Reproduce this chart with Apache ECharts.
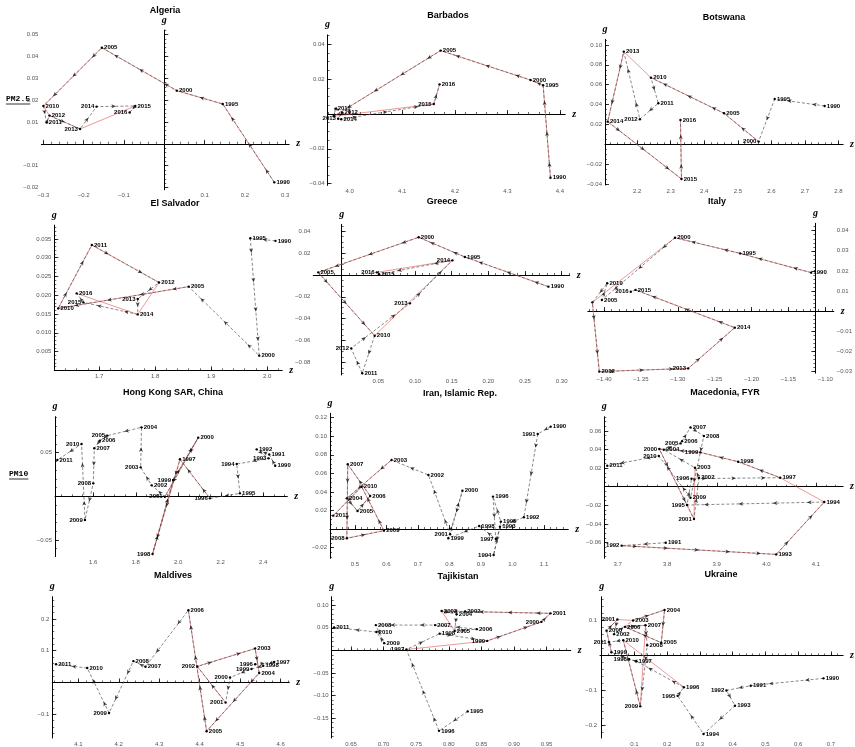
<!DOCTYPE html>
<html><head><meta charset="utf-8">
<script src="https://cdn.jsdelivr.net/npm/echarts@6/dist/echarts.min.js"></script>
<style>html,body{margin:0;padding:0;background:#fff}#c{width:855px;height:747px}</style>
</head><body><div id="c"></div>
<script>
// ---------------- DATA ----------------
const countryNames = ['Algeria','Barbados','Botswana','El Salvador','Greece','Italy','Hong Kong SAR, China','Iran, Islamic Rep.','Macedonia, FYR','Maldives','Tajikistan','Ukraine'];
const rowLabels = ['PM2.5','PM10'];

const algeriaYears = [1990,1995,2000,2005,2010,2011,2012,2013,2014,2015,2016];
const algeriaZ = [0.273,0.145,0.031,-0.155,-0.300,-0.292,-0.285,-0.209,-0.168,-0.072,-0.086];
const algeriaG = [-0.0176,0.0182,0.0243,0.0439,0.0173,0.0097,0.0129,0.0068,0.0170,0.0173,0.0143];
const algeriaRed = [1990,1995,2000,2005,2010,2012,2013,2015];
const algeriaXTicks = [-0.3,-0.2,-0.1,0.1,0.2,0.3];
const algeriaYTicks = [-0.02,-0.01,0.01,0.02,0.03,0.04,0.05];

const barbadosYears = [1990,1995,2000,2005,2010,2011,2012,2013,2014,2015,2016];
const barbadosZ = [4.382,4.368,4.344,4.173,3.970,3.973,3.986,3.978,3.984,4.160,4.171];
const barbadosG = [-0.0366,0.0165,0.0195,0.0364,-0.0013,0.0031,0.0008,-0.0027,-0.0030,0.0057,0.0170];
const barbadosRed = [1990,1995,2000,2005,2010,2015,2016];
const barbadosXTicks = [4.0,4.1,4.2,4.3,4.4];
const barbadosYTicks = [-0.04,-0.02,0.02,0.04];

const botswanaYears = [1990,1995,2000,2005,2010,2011,2012,2013,2014,2015,2016];
const botswanaZ = [2.759,2.610,2.562,2.459,2.241,2.263,2.208,2.160,2.112,2.332,2.329];
const botswanaG = [0.0386,0.0456,0.0027,0.0312,0.0671,0.0413,0.0252,0.0933,0.0228,-0.0349,0.0245];
const botswanaRed = [2000,2005,2010,2013,2014,2015,2016];
const botswanaXTicks = [2.2,2.3,2.4,2.5,2.6,2.7,2.8];
const botswanaYTicks = [-0.04,-0.02,0.02,0.04,0.06,0.08,0.10];

const elSalvadorYears = [1990,1995,2000,2005,2010,2011,2012,2013,2014,2015,2016];
const elSalvadorZ = [2.015,1.970,1.986,1.860,1.627,1.687,1.807,1.769,1.769,1.672,1.660];
const elSalvadorG = [0.0345,0.0352,0.0039,0.0223,0.0165,0.0334,0.0234,0.0190,0.0149,0.0181,0.0205];
const elSalvadorRed = [2005,2010,2011,2012,2014,2016];
const elSalvadorXTicks = [1.7,1.8,1.9,2.0];
const elSalvadorYTicks = [0.005,0.010,0.015,0.020,0.025,0.030,0.035];

const greeceYears = [1990,1995,2000,2005,2010,2011,2012,2013,2014,2015,2016];
const greeceZ = [0.282,0.168,0.105,-0.032,0.045,0.028,0.013,0.093,0.151,0.051,0.048];
const greeceG = [-0.0107,0.0165,0.0345,0.0024,-0.0556,-0.0900,-0.0672,-0.0260,0.0134,0.0006,0.0024];
const greeceRed = [1990,1995,2000,2005,2010,2014,2016];
const greeceXTicks = [0.05,0.10,0.15,0.20,0.25,0.30];
const greeceYTicks = [-0.08,-0.06,-0.04,-0.02,0.02,0.04];

const italyYears = [1990,1995,2000,2005,2010,2011,2012,2013,2014,2015,2016];
const italyZ = [-1.1192,-1.2154,-1.3038,-1.4029,-1.3957,-1.4158,-1.4064,-1.2859,-1.2227,-1.3573,-1.3637];
const italyG = [0.0191,0.0287,0.0365,0.0055,0.0138,0.0043,-0.0302,-0.0286,-0.0083,0.0105,0.0096];
const italyRed = [1990,1995,2000,2011,2012,2013,2014,2015];
const italyXTicks = [-1.40,-1.35,-1.30,-1.25,-1.20,-1.15,-1.10];
const italyYTicks = [-0.03,-0.02,-0.01,0.01,0.02,0.03,0.04];

const hongKongYears = [1990,1991,1992,1993,1994,1995,1996,1997,1998,1999,2000,2001,2002,2003,2004,2005,2006,2007,2008,2009,2010,2011];
const hongKongZ = [2.456,2.428,2.369,2.425,2.275,2.290,2.149,2.008,1.879,1.976,2.094,1.937,1.875,1.823,1.827,1.666,1.631,1.605,1.600,1.561,1.545,1.431];
const hongKongG = [0.0351,0.0480,0.0538,0.0435,0.0370,0.0034,-0.0023,0.0424,-0.0660,0.0187,0.0672,-0.0004,0.0126,0.0332,0.0790,0.0695,0.0637,0.0550,0.0149,-0.0271,0.0600,0.0416];
const hongKongRed = [1996,1997,1998,1999,2000,2001];
const hongKongXTicks = [1.6,1.8,2.0,2.2,2.4];
const hongKongYTicks = [-0.05,0.05];

const iranYears = [1990,1991,1992,1993,1994,1995,1996,1997,1998,1999,2000,2001,2002,2003,2004,2005,2006,2007,2008,2009,2010,2011];
const iranZ = [1.121,1.080,1.036,0.960,0.940,0.963,0.938,0.947,0.894,0.796,0.841,0.802,0.733,0.616,0.474,0.508,0.548,0.477,0.474,0.592,0.521,0.431];
const iranG = [0.1103,0.1024,0.0126,0.0025,-0.0280,0.0079,0.0349,-0.0108,0.0032,-0.0100,0.0413,-0.0057,0.0582,0.0744,0.0330,0.0194,0.0356,0.0697,-0.0100,-0.0018,0.0456,0.0144];
const iranRed = [2003,2004,2005,2006,2007,2008,2009,2010,2011];
const iranXTicks = [0.5,0.6,0.7,0.8,0.9,1.0,1.1];
const iranYTicks = [-0.02,0.02,0.04,0.06,0.08,0.10,0.12];

const macedoniaYears = [1991,1992,1993,1994,1995,1996,1997,1998,1999,2000,2001,2002,2003,2004,2005,2006,2007,2008,2009,2010,2011];
const macedoniaZ = [3.797,3.708,4.020,4.117,3.840,3.849,4.028,3.943,3.867,3.784,3.854,3.864,3.856,3.793,3.827,3.830,3.847,3.874,3.847,3.783,3.679];
const macedoniaG = [-0.0602,-0.0634,-0.0728,-0.0165,-0.0197,0.0086,0.0097,0.0269,0.0369,0.0405,-0.0348,0.0097,0.0204,0.0398,0.0466,0.0490,0.0638,0.0545,-0.0118,0.0330,0.0226];
const macedoniaRed = [1992,1993,1994,1997,1998,1999,2000,2001,2003];
const macedoniaXTicks = [3.7,3.8,3.9,4.0,4.1];
const macedoniaYTicks = [-0.06,-0.04,-0.02,0.02,0.04,0.06];

const maldivesYears = [1996,1997,1998,1999,2000,2001,2002,2003,2004,2005,2006,2007,2008,2009,2010,2011];
const maldivesZ = [4.537,4.584,4.557,4.528,4.475,4.464,4.394,4.537,4.547,4.417,4.372,4.266,4.236,4.176,4.122,4.045];
const maldivesG = [0.0574,0.0644,0.0525,0.0426,0.0158,-0.0634,0.0505,0.1070,0.0297,-0.1535,0.2277,0.0495,0.0673,-0.0960,0.0455,0.0574];
const maldivesRed = [2001,2002,2003,2004,2005,2006];
const maldivesXTicks = [4.1,4.2,4.3,4.4,4.5,4.6];
const maldivesYTicks = [-0.1,0.1,0.2];

const tajikistanYears = [1995,1996,1997,1998,1999,2000,2001,2002,2003,2004,2005,2006,2007,2008,2009,2010,2011];
const tajikistanZ = [0.829,0.785,0.735,0.786,0.859,0.942,0.956,0.825,0.789,0.812,0.809,0.843,0.779,0.688,0.701,0.689,0.624];
const tajikistanG = [-0.135,-0.178,0.002,0.037,0.021,0.063,0.082,0.086,0.087,0.080,0.043,0.047,0.056,0.056,0.016,0.0406,0.051];
const tajikistanRed = [1997,1999,2000,2001,2002,2003,2005];
const tajikistanXTicks = [0.65,0.70,0.75,0.80,0.85,0.90,0.95];
const tajikistanYTicks = [-0.15,-0.10,-0.05,0.05,0.10];

const ukraineYears = [1990,1991,1992,1993,1994,1995,1996,1997,1998,1999,2000,2001,2002,2003,2004,2005,2006,2007,2008,2009,2010,2011];
const ukraineZ = [0.677,0.455,0.381,0.407,0.311,0.232,0.251,0.106,0.084,0.030,0.015,0.048,0.038,0.096,0.192,0.182,0.071,0.134,0.139,0.118,0.066,0.022];
const ukraineG = [-0.0655,-0.0864,-0.1000,-0.1436,-0.2245,-0.1155,-0.0909,-0.0164,-0.0109,0.0091,0.0709,0.1027,0.0609,0.1000,0.1300,0.0364,0.0818,0.0864,0.0291,-0.1455,0.0436,0.0382];
const ukraineRed = [1999,2000,2001,2003,2004,2005,2006,2007,2009,2010,1996];
const ukraineXTicks = [0.1,0.2,0.3,0.4,0.5,0.6,0.7];
const ukraineYTicks = [-0.2,-0.1,0.1];

// ---------------- LAYOUT / STYLE (not data) ----------------
const panels = [
  {years:algeriaYears,z:algeriaZ,g:algeriaG,red:algeriaRed,xt:algeriaXTicks,yt:algeriaYTicks},
  {years:barbadosYears,z:barbadosZ,g:barbadosG,red:barbadosRed,xt:barbadosXTicks,yt:barbadosYTicks},
  {years:botswanaYears,z:botswanaZ,g:botswanaG,red:botswanaRed,xt:botswanaXTicks,yt:botswanaYTicks},
  {years:elSalvadorYears,z:elSalvadorZ,g:elSalvadorG,red:elSalvadorRed,xt:elSalvadorXTicks,yt:elSalvadorYTicks},
  {years:greeceYears,z:greeceZ,g:greeceG,red:greeceRed,xt:greeceXTicks,yt:greeceYTicks},
  {years:italyYears,z:italyZ,g:italyG,red:italyRed,xt:italyXTicks,yt:italyYTicks},
  {years:hongKongYears,z:hongKongZ,g:hongKongG,red:hongKongRed,xt:hongKongXTicks,yt:hongKongYTicks},
  {years:iranYears,z:iranZ,g:iranG,red:iranRed,xt:iranXTicks,yt:iranYTicks},
  {years:macedoniaYears,z:macedoniaZ,g:macedoniaG,red:macedoniaRed,xt:macedoniaXTicks,yt:macedoniaYTicks},
  {years:maldivesYears,z:maldivesZ,g:maldivesG,red:maldivesRed,xt:maldivesXTicks,yt:maldivesYTicks},
  {years:tajikistanYears,z:tajikistanZ,g:tajikistanG,red:tajikistanRed,xt:tajikistanXTicks,yt:tajikistanYTicks},
  {years:ukraineYears,z:ukraineZ,g:ukraineG,red:ukraineRed,xt:ukraineXTicks,yt:ukraineYTicks}
];
const layout = [
  {grid:[41.4,30,247.8,159.8], x:[-0.305,0.31], y:[-0.021,0.052], xd:1, yd:2, xm:0.02, ym:0.002, title:[165,11]},
  {grid:[327.6,34.9,237.6,150.5], x:[3.958,4.41], y:[-0.041,0.0454], xd:1, yd:2, xm:0.02, ym:0.005, title:[448,16]},
  {grid:[605,39.3,238.3,145.7], x:[2.104,2.814], y:[-0.041,0.1057], xd:1, yd:2, xm:0.02, ym:0.005, title:[724,18]},
  {grid:[54.3,225.1,227.9,145.2], x:[1.620,2.027], y:[0,0.0387], xd:1, yd:3, xm:0.02, ym:0.001, title:[175,204]},
  {grid:[313.3,224.3,256.4,150.7], x:[-0.0387,0.311], y:[-0.0916,0.0464], xd:2, yd:2, xm:0.01, ym:0.005, title:[442,202]},
  {grid:[587.8,223.3,260.1,149.9], x:[-1.422,-1.0885], y:[-0.031,0.0437], xd:2, yd:2, xm:0.01, ym:0.002, title:[717,202], shift:-1.1135, yPos:'right'},
  {grid:[55,416.7,232.3,139.9], x:[1.42,2.513], y:[-0.069,0.0912], xd:1, yd:2, xm:0.05, ym:0.01, title:[173,393]},
  {grid:[330,413.3,238.3,145], x:[0.4206,1.177], y:[-0.0316,0.1247], xd:1, yd:2, xm:0.02, ym:0.005, title:[460,394]},
  {grid:[604.3,416.7,239.4,141.6], x:[3.673,4.155], y:[-0.077,0.0753], xd:1, yd:2, xm:0.02, ym:0.005, title:[725,393]},
  {grid:[52.3,596.7,237,149.9], x:[4.0357,4.6214], y:[-0.175,0.2703], xd:1, yd:1, xm:0.02, ym:0.02, title:[173,576]},
  {grid:[331.7,596.7,239,149], x:[0.6204,0.987], y:[-0.1938,0.1188], xd:2, yd:2, xm:0.01, ym:0.01, title:[458,577]},
  {grid:[600,596.7,244.9,148.1], x:[-0.005,0.737], y:[-0.236,0.168], xd:1, yd:1, xm:0.02, ym:0.02, title:[721,575]}
];
// label placement codes: r (default), rb, l, lb, n (hidden)
const labelPlace = [
  {2011:'rb',2013:'lb',2014:'l',2016:'l'},
  {2010:'n',2013:'lb',2014:'rb',2015:'l'},
  {2000:'lb',2012:'lb'},
  {2010:'rb',2013:'l',2015:'l'},
  {2012:'l',2013:'l',2014:'l',2016:'l',2015:'rb',1990:'rb'},
  {2011:'n',2016:'l',2013:'l',2005:'rb'},
  {1990:'rb',1993:'l',1994:'l',1996:'lb',1998:'l',1999:'l',2001:'lb',2003:'l',2005:'l',2007:'rb',2008:'l',2009:'lb',2010:'l',2011:'rb'},
  {1991:'l',1992:'rb',1993:'rb',1994:'l',1997:'lb',1999:'rb',2001:'lb',2005:'rb',2006:'rb',2008:'lb',2011:'rb'},
  {1992:'l',1995:'l',1996:'l',1999:'lb',2000:'l',2001:'lb',2005:'l',2010:'l',2011:'rb',2009:'rb'},
  {1996:'l',1998:'rb',1999:'l',2000:'l',2001:'lb',2002:'l',2004:'rb',2007:'rb',2009:'lb'},
  {1997:'l',1998:'rb',1999:'lb',2000:'l',2004:'rb',2005:'rb',2009:'rb'},
  {1992:'l',1995:'lb',1998:'lb',2001:'l',2009:'lb',2011:'lb'}
];

const FONT = '"Liberation Sans", Arial, sans-serif';
function fmt(v, d){ let s = v.toFixed(d); if (s.charAt(0)==='-') s = '\u2212' + s.slice(1); return s; }
function minorTicks(min, max, step){ const out=[]; const s=Math.ceil(min/step-1e-9); for(let k=s; k*step<=max+1e-12; k++){ out.push(+(k*step).toFixed(6)); } return out; }
function labelCfg(code){
  switch(code){
    case 'rb': return {position:'right', distance:1, offset:[0,4]};
    case 'l': return {position:'left', distance:1, offset:[0,-2]};
    case 'lb': return {position:'left', distance:1, offset:[0,4]};
    case 'n': return {show:false};
    default: return {position:'right', distance:1, offset:[0,-2]};
  }
}

const option = {animation:false, backgroundColor:'#fff', grid:[], xAxis:[], yAxis:[], series:[], graphic:[]};

panels.forEach((p,i)=>{
  const L = layout[i];
  const sh = L.shift || 0;
  const yPos = L.yPos || 'left';
  option.grid.push({left:L.grid[0], top:L.grid[1], width:L.grid[2], height:L.grid[3], show:false, containLabel:false});
  const xmin = L.x[0]-sh, xmax = L.x[1]-sh;
  const xi = 2*i, yi = 2*i;
  const xTickVals = p.xt.map(v=>v-sh);
  const xMinor = minorTicks(L.x[0], L.x[1], L.xm).map(v=>v-sh);
  const yMinor = minorTicks(L.y[0], L.y[1], L.ym);
  const nameStyle = {fontFamily:'"Liberation Serif", serif', fontStyle:'italic', fontWeight:'bold', fontSize:10, color:'#000'};
  option.xAxis.push({type:'value', gridIndex:i, min:xmin, max:xmax, position:'bottom',
    name:'z', nameLocation:'end', nameGap:7, nameTextStyle:nameStyle,
    axisLine:{show:true, onZero:true, onZeroAxisIndex:yi, lineStyle:{color:'#000', width:1}},
    axisTick:{show:true, inside:true, length:4, customValues:xTickVals, lineStyle:{color:'#000', width:0.8}},
    axisLabel:{show:true, customValues:xTickVals, formatter:(v)=>fmt(v+sh, L.xd), fontSize:6, color:'#555', margin:3, fontFamily:FONT},
    splitLine:{show:false}});
  option.xAxis.push({type:'value', gridIndex:i, min:xmin, max:xmax, position:'bottom',
    axisLine:{show:false, onZero:true, onZeroAxisIndex:yi},
    axisTick:{show:true, inside:true, length:2, customValues:xMinor, lineStyle:{color:'#000', width:0.6}},
    axisLabel:{show:false}, splitLine:{show:false}});
  option.yAxis.push({type:'value', gridIndex:i, min:L.y[0], max:L.y[1], position:yPos,
    name:'g', nameLocation:'end', nameGap:5, nameTextStyle:nameStyle,
    axisLine:{show:true, onZero:true, onZeroAxisIndex:xi, lineStyle:{color:'#000', width:1}},
    axisTick:{show:true, inside:true, length:4, customValues:p.yt, lineStyle:{color:'#000', width:0.8}},
    axisLabel:{show:true, customValues:p.yt, formatter:(v)=>fmt(v, L.yd), fontSize:6, color:'#555', margin:3, fontFamily:FONT},
    splitLine:{show:false}});
  option.yAxis.push({type:'value', gridIndex:i, min:L.y[0], max:L.y[1], position:yPos,
    axisLine:{show:false, onZero:true, onZeroAxisIndex:xi},
    axisTick:{show:true, inside:true, length:2, customValues:yMinor, lineStyle:{color:'#000', width:0.6}},
    axisLabel:{show:false}, splitLine:{show:false}});

  const idx = {}; p.years.forEach((y,k)=>{ idx[y]=k; });
  const place = labelPlace[i] || {};

  option.series.push({type:'line', xAxisIndex:xi, yAxisIndex:yi, silent:true, z:3,
    data:p.years.map((y,k)=>({value:[p.z[k]-sh, p.g[k], y], label:labelCfg(place[y])})),
    symbol:'circle', symbolSize:2.4, showSymbol:true, itemStyle:{color:'#000'},
    lineStyle:{color:'#555', width:0.7, type:[3,2]},
    label:{show:true, formatter:(q)=>String(q.value[2]), fontSize:6, color:'#000', fontFamily:FONT, fontWeight:'bold'},
    emphasis:{disabled:true}, labelLayout:{hideOverlap:false}});
  option.series.push({type:'line', xAxisIndex:xi, yAxisIndex:yi, silent:true, z:2,
    data:p.red.map(y=>[p.z[idx[y]]-sh, p.g[idx[y]]]),
    symbol:'none', lineStyle:{color:'rgba(225,70,70,0.7)', width:0.8}, emphasis:{disabled:true}});
  const xs = L.grid[2]/(L.x[1]-L.x[0]), ys = L.grid[3]/(L.y[1]-L.y[0]);
  const arrows = [];
  for (let k=0; k<p.years.length-1; k++){
    const za=p.z[k], ga=p.g[k], zb=p.z[k+1], gb=p.g[k+1];
    const dx=(zb-za)*xs, dy=(gb-ga)*ys; const len=Math.hypot(dx,dy);
    if (len < 7) continue;
    const n = Math.max(1, Math.round(len/32));
    const rot = Math.atan2(dy,dx)*180/Math.PI - 90;
    for (let m=0; m<n; m++){ const t=(m+0.5)/n; arrows.push({value:[za+t*(zb-za)-sh, ga+t*(gb-ga)], symbolRotate:rot}); }
  }
  option.series.push({type:'scatter', xAxisIndex:xi, yAxisIndex:yi, silent:true, z:4,
    symbol:'arrow', symbolSize:[3,4.5], itemStyle:{color:'#111'}, data:arrows, emphasis:{disabled:true}});

  option.graphic.push({type:'text', x:L.title[0], y:L.title[1], silent:true,
    style:{text:countryNames[i], font:'bold 9px '+FONT, fill:'#000', align:'center', verticalAlign:'middle', textAlign:'center', textVerticalAlign:'middle'}});
});

[[rowLabels[0],6,99],[rowLabels[1],9,474]].forEach(([t,x,y])=>{
  option.graphic.push({type:'text', x:x, y:y, silent:true,
    style:{text:t, font:'bold 8px "Liberation Mono", monospace', fill:'#000', align:'left', verticalAlign:'middle', textAlign:'left', textVerticalAlign:'middle'}});
  option.graphic.push({type:'line', silent:true, shape:{x1:x, y1:y+5, x2:x+t.length*4.85, y2:y+5}, style:{stroke:'#000', lineWidth:0.8}});
});

const chart = echarts.init(document.getElementById('c'), null, {renderer:'canvas'});
chart.setOption(option);
</script></body></html>
